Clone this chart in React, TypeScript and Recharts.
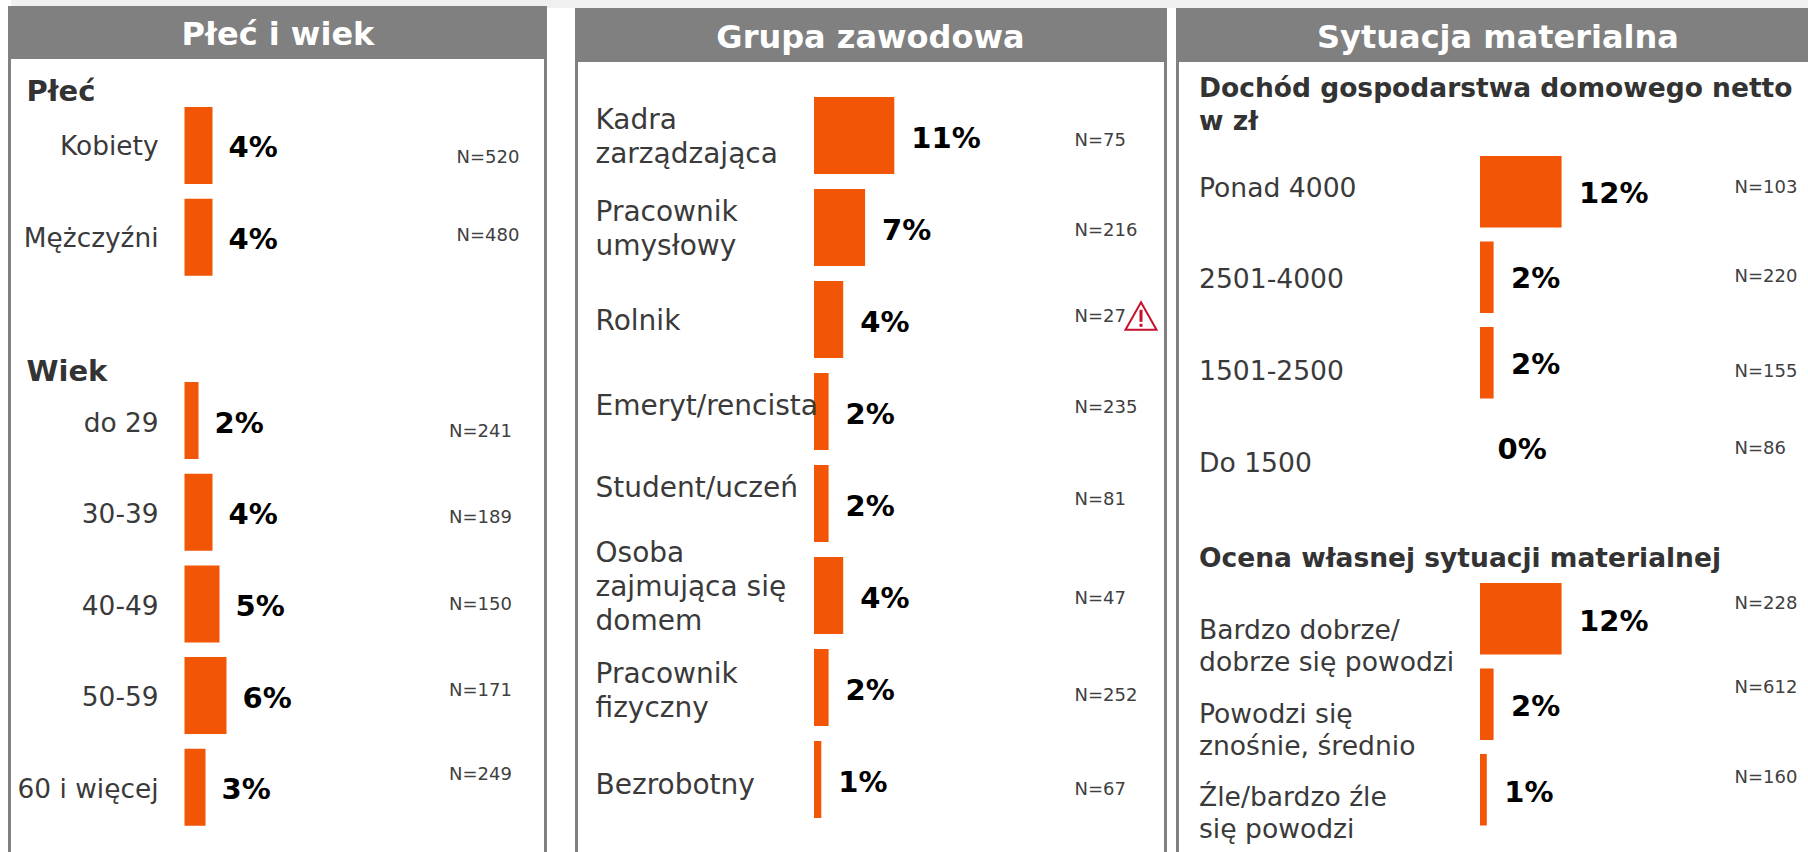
import { BarChart, Bar, XAxis, YAxis, LabelList } from "recharts";

const FONT = '"DejaVu Sans", Verdana, sans-serif';
const ORANGE = "#f25505";
const GREY = "#808080";

// Płeć
const genderCats = ["Kobiety", "Mężczyźni"];
const genderVals = [4, 4];
const genderNs = [520, 480];

// Wiek
const ageCats = ["do 29", "30-39", "40-49", "50-59", "60 i więcej"];
const ageVals = [2, 4, 5, 6, 3];
const ageNs = [241, 189, 150, 171, 249];

// Grupa zawodowa
const jobCats = [
  "Kadra\nzarządzająca",
  "Pracownik\numysłowy",
  "Rolnik",
  "Emeryt/rencista",
  "Student/uczeń",
  "Osoba\nzajmująca się\ndomem",
  "Pracownik\nfizyczny",
  "Bezrobotny",
];
const jobVals = [11, 7, 4, 2, 2, 4, 2, 1];
const jobNs = [75, 216, 27, 235, 81, 47, 252, 67];

// Dochód
const incomeCats = ["Ponad 4000", "2501-4000", "1501-2500", "Do 1500"];
const incomeVals = [12, 2, 2, 0];
const incomeNs = [103, 220, 155, 86];

// Ocena własnej sytuacji
const ratingCats = [
  "Bardzo dobrze/\ndobrze się powodzi",
  "Powodzi się\nznośnie, średnio",
  "Źle/bardzo źle\nsię powodzi",
];
const ratingVals = [12, 2, 1];
const ratingNs = [228, 612, 160];

const PAD = 30;

type GroupProps = {
  cats: string[];
  vals: number[];
  ns: number[];
  left: number;
  top: number;
  width: number;
  pitch: number;
  barH: number;
  barX: number;
  pxPerPct: number;
  labelX: number;
  labelAnchor: "start" | "end";
  labelSize: number;
  lineH: number;
  labelDy?: number[];
  valueGap: number;
  valueDy?: number;
  nX: number;
  nDy: number[];
  warnIndex?: number;
};

function Group(p: GroupProps) {
  const data = p.cats.map((c, i) => ({ cat: c, val: p.vals[i], n: p.ns[i] }));
  const axisW = p.barX - p.left;
  const domainMax = (p.width - axisW) / p.pxPerPct;
  const height = p.cats.length * p.pitch + PAD * 2;

  const renderTick = (t: any) => {
    const lines = String(t.payload.value).split("\n");
    const i = t.index ?? t.payload.index ?? 0;
    const dy = p.labelDy ? p.labelDy[i] : 0;
    const firstY = t.y + dy - ((lines.length - 1) * p.lineH) / 2;
    return (
      <text
        x={p.labelX - p.left}
        y={firstY}
        textAnchor={p.labelAnchor}
        dominantBaseline="central"
        fontFamily={FONT}
        fontSize={p.labelSize}
        fill="#3a3a3a"
      >
        {lines.map((l, j) => (
          <tspan key={j} x={p.labelX - p.left} y={firstY + j * p.lineH}>
            {l}
          </tspan>
        ))}
      </text>
    );
  };

  const renderValue = (l: any) => (
    <text
      x={l.x + l.width + p.valueGap}
      y={l.y + l.height / 2 + (p.valueDy ?? 2)}
      dominantBaseline="central"
      fontFamily={FONT}
      fontWeight="bold"
      fontSize={29}
      fill="#000"
    >
      {l.value}%
    </text>
  );

  const renderN = (l: any) => {
    const x = p.nX - p.left;
    const y = l.y + l.height / 2 + p.nDy[l.index];
    return (
      <g>
        <text x={x} y={y} dominantBaseline="central" fontFamily={FONT} fontSize={18} fill="#404040">
          N={l.value}
        </text>
        {l.index === p.warnIndex && (
          <g transform={`translate(${x + 50},${y - 15})`}>
            <path d="M16.5 1.5 L32 29 L1 29 Z" fill="#fff" stroke="#c8102e" strokeWidth={2} />
            <rect x={15} y={9} width={3} height={12} fill="#c8102e" />
            <rect x={15} y={23} width={3} height={3} fill="#c8102e" />
          </g>
        )}
      </g>
    );
  };

  return (
    <div style={{ position: "absolute", left: p.left, top: p.top - PAD }}>
      <BarChart
        width={p.width}
        height={height}
        data={data}
        layout="vertical"
        margin={{ top: PAD, right: 0, bottom: PAD, left: 0 }}
      >
        <XAxis type="number" hide domain={[0, domainMax]} />
        <YAxis
          type="category"
          dataKey="cat"
          width={axisW}
          interval={0}
          axisLine={false}
          tickLine={false}
          tick={renderTick}
        />
        {/* minPointSize keeps the labels of the 0% row */}
        <Bar dataKey="val" fill={ORANGE} barSize={p.barH} minPointSize={0.001} isAnimationActive={false}>
          <LabelList dataKey="val" content={renderValue} />
          <LabelList dataKey="n" content={renderN} />
        </Bar>
      </BarChart>
    </div>
  );
}

function Panel(props: { left: number; width: number; headTop: number; headBottom: number; title: string; titleX: number; titleY: number }) {
  return (
    <>
      <div
        style={{
          position: "absolute",
          left: props.left,
          top: props.headTop,
          width: props.width,
          height: 852 - props.headTop,
          boxSizing: "border-box",
          background: "#fff",
          borderLeft: `3px solid ${GREY}`,
          borderRight: `3px solid ${GREY}`,
        }}
      />
      <div
        style={{
          position: "absolute",
          left: props.left + 3,
          top: props.headTop,
          width: props.width - 3,
          height: props.headBottom - props.headTop,
          background: GREY,
        }}
      />
      <Heading x={props.titleX} y={props.titleY} size={32} color="#fff" center>
        {props.title}
      </Heading>
    </>
  );
}

function Heading(props: { x: number; y: number; size: number; color: string; center?: boolean; children: string }) {
  return (
    <div
      style={{
        position: "absolute",
        left: props.x,
        top: props.y,
        transform: props.center ? "translate(-50%,-50%)" : "translateY(-50%)",
        fontFamily: FONT,
        fontWeight: "bold",
        fontSize: props.size,
        lineHeight: 1,
        whiteSpace: "nowrap",
        color: props.color,
      }}
    >
      {props.children}
    </div>
  );
}

export default function App() {
  return (
    <div style={{ position: "absolute", left: 0, top: 0, width: 1808, height: 852, overflow: "hidden", background: "#fff" }}>
      <div style={{ position: "absolute", left: 11, top: 0, width: 1797, height: 8, background: "#f0f0f0" }} />

      <Panel left={8} width={539} headTop={6} headBottom={59} title="Płeć i wiek" titleX={278} titleY={34} />
      <Panel left={575} width={592} headTop={8} headBottom={62} title="Grupa zawodowa" titleX={870.5} titleY={37} />
      <Panel left={1176} width={640} headTop={8} headBottom={62} title="Sytuacja materialna" titleX={1498} titleY={37} />

      <Heading x={26.5} y={91} size={29} color="#333">Płeć</Heading>
      <Group
        cats={genderCats} vals={genderVals} ns={genderNs}
        left={11} top={100} width={530} pitch={91.7} barH={77} barX={184.5} pxPerPct={7}
        labelX={158.5} labelAnchor="end" labelSize={26.4} lineH={34}
        labelDy={[0.5, 0.5]}
        valueGap={16} valueDy={2}
        nX={456.5} nDy={[11, -2.5]}
      />
      <Heading x={26.5} y={371} size={29} color="#333">Wiek</Heading>
      <Group
        cats={ageCats} vals={ageVals} ns={ageNs}
        left={11} top={375} width={530} pitch={91.7} barH={77} barX={184.5} pxPerPct={7}
        labelX={158.5} labelAnchor="end" labelSize={26.4} lineH={34}
        labelDy={[1, 0.5, 0.5, 0.5, 0.5]}
        valueGap={16} valueDy={2}
        nX={449} nDy={[10, 4.5, 0, -6.5, -13.5]}
      />

      <Group
        cats={jobCats} vals={jobVals} ns={jobNs}
        left={578} top={88.7} width={586} pitch={92} barH={77} barX={814} pxPerPct={7.3}
        labelX={595.5} labelAnchor="start" labelSize={28} lineH={34}
        labelDy={[0.5, 0.5, 0.5, -5.7, -16.5, -9, 2.5, 4.5]}
        valueGap={17}
        nX={1074.5} nDy={[3.7, 1.6, -3.7, -4.7, -5.5, 1.5, 6.8, 8.8]}
        warnIndex={2}
      />

      <Heading x={1199} y={88} size={26.5} color="#333">Dochód gospodarstwa domowego netto</Heading>
      <Heading x={1199} y={121} size={26.5} color="#333">w zł</Heading>
      <Group
        cats={incomeCats} vals={incomeVals} ns={incomeNs}
        left={1179} top={149} width={629} pitch={85.5} barH={71.5} barX={1480} pxPerPct={6.8}
        labelX={1199} labelAnchor="start" labelSize={26.6} lineH={32}
        labelDy={[-4.5, 1, 7, 14]}
        valueGap={17.5} valueDy={1}
        nX={1734.5} nDy={[-5.5, -2, 8, -0.5]}
      />
      <Heading x={1199} y={558} size={26.5} color="#333">Ocena własnej sytuacji materialnej</Heading>
      <Group
        cats={ratingCats} vals={ratingVals} ns={ratingNs}
        left={1179} top={575.75} width={629} pitch={85.5} barH={71.5} barX={1480} pxPerPct={6.8}
        labelX={1199} labelAnchor="start" labelSize={26.6} lineH={32}
        labelDy={[26.5, 24.5, 22]}
        valueGap={17.5}
        nX={1734.5} nDy={[-16, -17.3, -12.8]}
      />
    </div>
  );
}
